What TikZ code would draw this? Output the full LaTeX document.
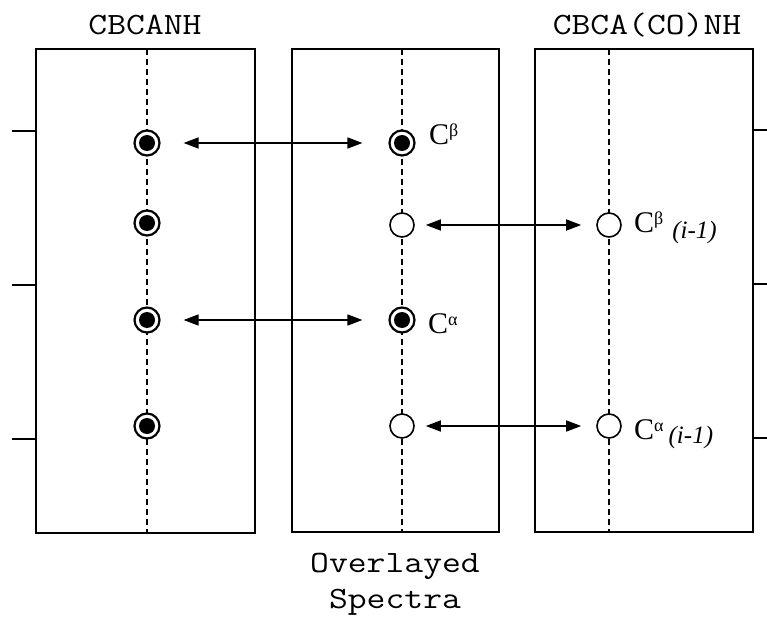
\documentclass[tikz,border=0pt]{standalone}
\usepackage{fontspec}
\setmainfont{Liberation Serif}
\usetikzlibrary{arrows.meta}
\newcommand{\wmono}[1]{\scalebox{1.18}[1]{\ttfamily #1}}
\begin{document}
\begin{tikzpicture}[x=1pt,y=-1pt,
  frame/.style={draw, line width=1.6pt},
  midline/.style={draw, line width=1.3pt, dash pattern=on 6pt off 4pt},
  tick/.style={draw, line width=1.4pt},
  fdot/.style={circle, draw, fill=white, line width=2.2pt, minimum size=25pt, inner sep=0pt,
    path picture={\fill[black] (path picture bounding box.center) circle (8pt);}},
  odot/.style={circle, draw, fill=white, line width=1.6pt, minimum size=24pt, inner sep=0pt},
  link/.style={{Triangle[length=15pt,width=11pt]}-{Triangle[length=15pt,width=11pt]}, line width=1.6pt},
  title/.style={font=\fontsize{31}{37}\selectfont, anchor=base, inner sep=0pt},
  lab/.style={font=\fontsize{30}{30}\selectfont, anchor=base west, inner sep=0pt}
]
\useasboundingbox (0,0) rectangle (767,617);
% boxes
\draw[frame] (36,49) rectangle (255,533);
\draw[frame] (292,49) rectangle (499,532);
\draw[frame] (535,49) rectangle (753,532);
% dashed centre lines
\draw[midline] (147,49) -- (147,533);
\draw[midline] (402,49) -- (402,532);
\draw[midline] (609,49) -- (609,532);
% ticks
\foreach \y in {131,285,439} \draw[tick] (12,\y) -- (36,\y);
\foreach \y in {130,284,438} \draw[tick] (753,\y) -- (767,\y);
% titles
\node[title] (t1) at (145,35) {\wmono{CBCANH}};
\node[title] (t2) at (647,35) {\wmono{CBCA(CO)NH}};
\node[title] (t3) at (395,572) {\wmono{Overlayed}};
\node[title] (t4) at (395,608) {\wmono{Spectra}};
% dots
\node[fdot] (l1) at (147,143) {};
\node[fdot] (l2) at (147,223) {};
\node[fdot] (l3) at (147,320) {};
\node[fdot] (l4) at (147,426) {};
\node[fdot] (m1) at (402,143) {};
\node[odot] (m2) at (402,225) {};
\node[fdot] (m3) at (402,320) {};
\node[odot] (m4) at (402,426) {};
\node[odot] (r2) at (609,225) {};
\node[odot] (r4) at (609,426) {};
% arrows
\draw[link, shorten <=23pt, shorten >=26pt] (l1.east) -- (m1.west);
\draw[link, shorten <=23pt, shorten >=26pt] (l3.east) -- (m3.west);
\draw[link, shorten <=11pt, shorten >=15pt] (m2.east) -- (r2.west);
\draw[link, shorten <=11pt, shorten >=15pt] (m4.east) -- (r4.west);
% labels
\node[lab] (c1) at (429,145) {C\raisebox{8pt}{\fontsize{18}{18}\selectfont β}};
\node[lab] (c2) at (634,233) {C\raisebox{8pt}{\fontsize{18}{18}\selectfont β}\hspace{9pt}\raisebox{-6pt}{\fontsize{25}{25}\selectfont\itshape (i-1)}};
\node[lab] (c3) at (428,333) {C\raisebox{8pt}{\fontsize{18}{18}\selectfont α}};
\node[lab] (c4) at (634,439) {C\raisebox{8pt}{\fontsize{18}{18}\selectfont α}\hspace{5pt}\raisebox{-4pt}{\fontsize{25}{25}\selectfont\itshape (i-1)}};
\end{tikzpicture}
\end{document}
